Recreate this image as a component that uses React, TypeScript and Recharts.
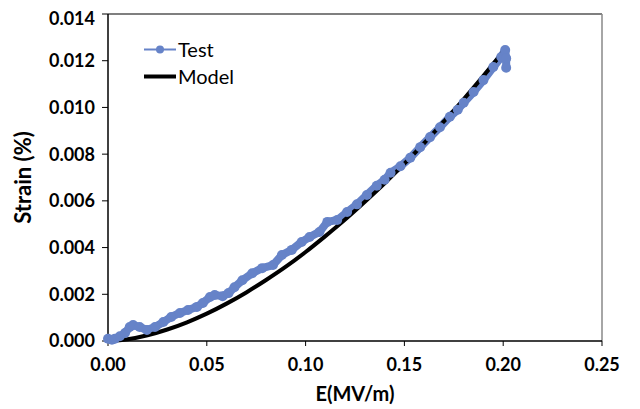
import { LineChart, Line, XAxis, YAxis, ReferenceLine, Legend, Label } from 'recharts'

// readings from the reference picture
const xTicks = [0, 0.05, 0.1, 0.15, 0.2, 0.25]
const yTicks = [0, 0.002, 0.004, 0.006, 0.008, 0.01, 0.012, 0.014]

const testE = [
  0, 0.002, 0.0035, 0.006, 0.0086, 0.011, 0.0127, 0.016, 0.0197, 0.0238,
  0.028, 0.032, 0.0364, 0.0405, 0.045, 0.048, 0.0516, 0.054, 0.058, 0.061,
  0.064, 0.068, 0.073, 0.078, 0.0835, 0.088, 0.093, 0.098, 0.102, 0.107,
  0.111, 0.116, 0.121, 0.126, 0.131, 0.136, 0.14, 0.143, 0.148, 0.153,
  0.158, 0.163, 0.168, 0.173, 0.177, 0.18, 0.185, 0.19, 0.195, 0.199,
  0.201, 0.2015, 0.2015,
]
const testStrain = [
  0.0001, 0.00005, 0.0001, 0.0002, 0.00034, 0.0006, 0.00068, 0.0006, 0.00047, 0.0006,
  0.00081, 0.00103, 0.0012, 0.00133, 0.00146, 0.00163, 0.00188, 0.00197, 0.00192, 0.00205,
  0.0023, 0.0026, 0.0029, 0.00312, 0.00325, 0.00368, 0.0039, 0.00424, 0.00445, 0.00467,
  0.0051, 0.00518, 0.00552, 0.00585, 0.00625, 0.00665, 0.0069, 0.0072, 0.00748, 0.00785,
  0.0083, 0.00873, 0.00915, 0.0096, 0.0099, 0.0102, 0.01066, 0.01117, 0.01173, 0.01216,
  0.01246, 0.0121, 0.0117,
]

const modelE = [
  0, 0.01, 0.02, 0.03, 0.04, 0.05, 0.06, 0.07, 0.08, 0.09, 0.1,
  0.11, 0.12, 0.13, 0.14, 0.15, 0.16, 0.17, 0.18, 0.19, 0.2,
]
const modelStrain = [
  0, 0.000076, 0.000247, 0.000492, 0.0008, 0.00117, 0.0016, 0.00208, 0.00261, 0.00318, 0.00381,
  0.00449, 0.0052, 0.00596, 0.00675, 0.00759, 0.00847, 0.0094, 0.01035, 0.01135, 0.01238,
]

const testData = testE.map((e, i) => ({ e, strain: testStrain[i] }))
const modelData = modelE.map((e, i) => ({ e, strain: modelStrain[i] }))

const blue = '#6683c8'
const font = 'Lato, "Open Sans", sans-serif'

function LegendBox() {
  const row = { display: 'flex', alignItems: 'center', height: 27 }
  return (
    <div style={{ fontFamily: font, fontSize: 20, color: '#000' }}>
      <div style={row}>
        <svg width={34} height={27}>
          <line x1={0} y1={13.5} x2={32} y2={13.5} stroke={blue} strokeWidth={2} />
          <circle cx={16} cy={13.5} r={4} fill={blue} />
        </svg>
        <span>Test</span>
      </div>
      <div style={row}>
        <svg width={34} height={27}>
          <line x1={0} y1={13.5} x2={32} y2={13.5} stroke="#000" strokeWidth={4} />
        </svg>
        <span>Model</span>
      </div>
    </div>
  )
}

export default function App() {
  const tick = { fill: '#000', fontSize: 18, fontWeight: 700, fontFamily: font }
  return (
    <div style={{ width: 632, height: 401 }}>
      <LineChart
        width={632}
        height={401}
        margin={{ top: 6, right: 38, left: 0, bottom: 0 }}
        style={{ fontFamily: font }}
      >
        <XAxis
          type="number"
          dataKey="e"
          domain={[0, 0.25]}
          ticks={xTicks}
          tickFormatter={(v: number) => v.toFixed(2)}
          tick={tick}
          height={68}
          tickSize={5}
          tickMargin={12}
          axisLine={{ stroke: '#000', strokeWidth: 1.5 }}
          tickLine={{ stroke: '#000' }}
        >
          <Label
            value="E(MV/m)"
            position="insideBottom"
            offset={8}
            style={{ fontSize: 20, fontWeight: 700, fill: '#000', fontFamily: font }}
          />
        </XAxis>
        <YAxis
          type="number"
          domain={[0, 0.014]}
          ticks={yTicks}
          tickFormatter={(v: number) => v.toFixed(3)}
          tick={tick}
          width={100}
          tickSize={6}
          tickMargin={7}
          axisLine={{ stroke: '#000', strokeWidth: 1.5 }}
          tickLine={{ stroke: '#000' }}
        >
          <Label
            value="Strain (%)"
            angle={-90}
            position="insideLeft"
            offset={15}
            style={{ fontSize: 22, fontWeight: 700, fill: '#000', fontFamily: font, textAnchor: 'middle' }}
          />
        </YAxis>
        <ReferenceLine y={0.014} stroke="#555" strokeWidth={1.5} />
        <ReferenceLine x={0.25} stroke="#888" strokeWidth={1.5} />
        <Legend
          layout="vertical"
          align="center"
          verticalAlign="middle"
          wrapperStyle={{ left: 136, top: 27.5, width: 'auto' }}
          content={() => <LegendBox />}
        />
        <Line
          data={testData}
          dataKey="strain"
          name="Test"
          stroke={blue}
          strokeWidth={8}
          strokeLinejoin="round"
          strokeLinecap="round"
          dot={{ r: 5, fill: blue, stroke: 'none' }}
          activeDot={false}
          isAnimationActive={false}
        />
        <Line
          data={modelData}
          dataKey="strain"
          name="Model"
          type="monotone"
          stroke="#000"
          strokeWidth={4}
          dot={false}
          activeDot={false}
          isAnimationActive={false}
        />
      </LineChart>
    </div>
  )
}
